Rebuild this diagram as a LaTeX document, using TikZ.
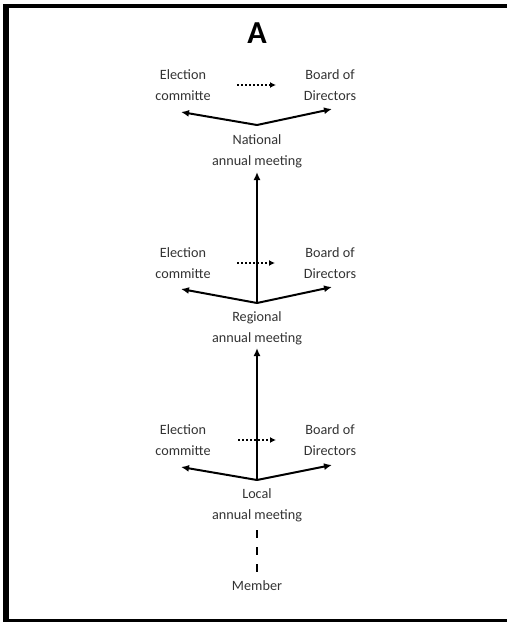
\documentclass[tikz,border=0pt]{standalone}
\usepackage{fontspec}
\setmainfont{Carlito}
\usetikzlibrary{arrows.meta}
\tikzset{
  lbl/.style={align=center, inner sep=0pt, anchor=base, text=black!80,
    font=\fontsize{14.2}{21}\selectfont},
  solidarr/.style={line width=2pt, -{Latex[length=8pt,width=7pt]}},
  dotarr/.style={line width=2pt, dash pattern=on 2pt off 2pt, -{Latex[length=6pt,width=6pt]}},
  memberline/.style={line width=2.5pt, dash pattern=on 8pt off 9pt},
  frame/.style={fill=black}
}
\begin{document}
\begin{tikzpicture}[x=1pt,y=-1pt]
\useasboundingbox (0,0) rectangle (507,622);
% frame (left, top, bottom)
\fill[frame] (3,4) rectangle (9,622);
\fill[frame] (3,4) rectangle (507,8);
\fill[frame] (3,619) rectangle (507,622);

% title
\node[anchor=base, inner sep=0pt, font=\fontsize{32}{36}\selectfont\bfseries] (title) at (257,43) {A};

% two-line labels: the base anchor sits on the second line's baseline
% ---- national level ----
\node[lbl] (ecN) at (183,100.5) {Election\\committe};
\node[lbl] (bdN) at (330,100.5) {Board of\\Directors};
\node[lbl] (nat) at (257,165.5) {National\\annual meeting};
\coordinate (apN) at (257,125);
\coordinate (ecNtip) at (181,112);
\coordinate (bdNtip) at (332,109);
\coordinate (dotNa) at (237,85);
\coordinate (dotNb) at (276,85);
\coordinate (natin) at (257,172);

% ---- regional level ----
\node[lbl] (ecR) at (183,278.5) {Election\\committe};
\node[lbl] (bdR) at (330,278) {Board of\\Directors};
\node[lbl] (reg) at (257,342) {Regional\\annual meeting};
\coordinate (apR) at (257,303);
\coordinate (ecRtip) at (181,289);
\coordinate (bdRtip) at (332,287);
\coordinate (dotRa) at (237,263);
\coordinate (dotRb) at (275,263);
\coordinate (regin) at (257,348);

% ---- local level ----
\node[lbl] (ecL) at (183,455.5) {Election\\committe};
\node[lbl] (bdL) at (330,455) {Board of\\Directors};
\node[lbl] (loc) at (257,519.5) {Local\\annual meeting};
\node[lbl] (mem) at (257,590.5) {Member};
\coordinate (apL) at (257,480);
\coordinate (ecLtip) at (181,467);
\coordinate (bdLtip) at (332,465);
\coordinate (dotLa) at (238,440);
\coordinate (dotLb) at (276,440);
\coordinate (memtop) at (257,530);
\coordinate (membot) at (257,573);

% upward reporting lines
\draw[solidarr] (apR) -- (natin);
\draw[solidarr] (apL) -- (regin);

% each meeting elects committee and board
\foreach \ap/\ec/\bd in {apN/ecNtip/bdNtip, apR/ecRtip/bdRtip, apL/ecLtip/bdLtip}{
  \draw[solidarr] (\ap) -- (\ec);
  \draw[solidarr] (\ap) -- (\bd);
}

% committee proposes board
\draw[dotarr] (dotNa) -- (dotNb);
\draw[dotarr] (dotRa) -- (dotRb);
\draw[dotarr] (dotLa) -- (dotLb);

% membership link
\draw[memberline] (memtop) -- (membot);
\end{tikzpicture}
\end{document}
